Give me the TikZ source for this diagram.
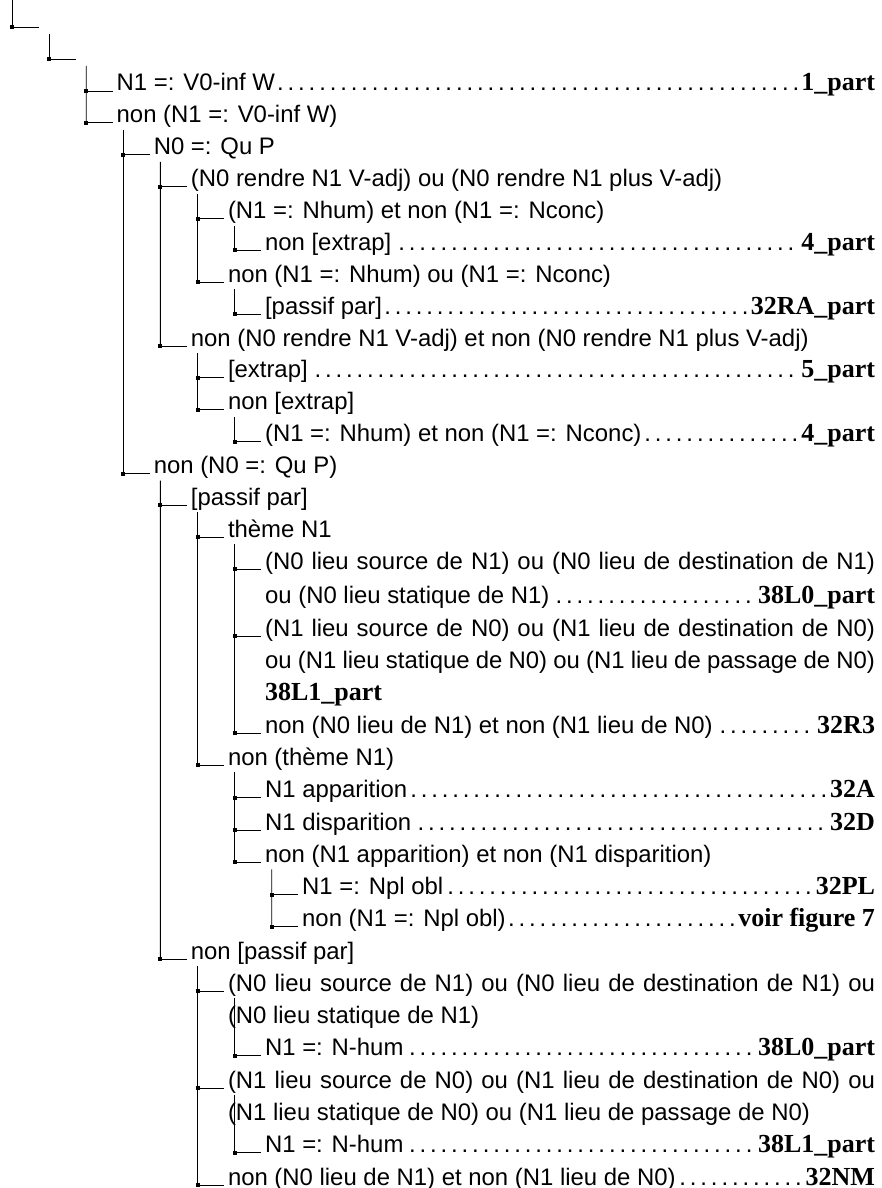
\documentclass[tikz,border=0pt]{standalone}
\usepackage{fontspec}
\setmainfont{Liberation Serif}
\setsansfont{Liberation Sans}
\usetikzlibrary{calc}
\newcommand\partlbl[1]{{\fontsize{26pt}{30pt}\selectfont\rmfamily\bfseries #1}}
\tikzset{
	junc/.style={fill, minimum size=4pt, inner sep=0pt, outer sep=0pt},
	lbl/.style={anchor=base west, inner sep=0pt, outer sep=0pt, font=\fontsize{23.9pt}{28pt}\selectfont\sffamily},
}

\begin{document}
\begin{tikzpicture}[x=1pt, y=-1pt, line width=0.9pt]
	\useasboundingbox (0,0) rectangle (881,1188);
	% first two levels, no text
	\coordinate (top) at (12,0);
	\node[junc] (ja) at (12,27) {};
	\node[junc] (jb) at (49.1,59) {};
	\draw (top) -- (ja.center) -- ++(26.5,0);
	\draw (jb.center) -- ++(26.5,0);
	% junctions
	\node[junc] (j1) at (86.2,91) {};
	\node[junc] (j2) at (86.2,122.9) {};
	\node[junc] (j3) at (123.3,154.8) {};
	\node[junc] (j4) at (160.4,186.6) {};
	\node[junc] (j5) at (197.5,218.5) {};
	\node[junc] (j6) at (234.6,250.4) {};
	\node[junc] (j7) at (197.5,282.3) {};
	\node[junc] (j8) at (234.6,314.2) {};
	\node[junc] (j9) at (160.4,346) {};
	\node[junc] (j10) at (197.5,377.9) {};
	\node[junc] (j11) at (197.5,409.8) {};
	\node[junc] (j12) at (234.6,441.7) {};
	\node[junc] (j13) at (123.3,473.6) {};
	\node[junc] (j14) at (160.4,505.4) {};
	\node[junc] (j15) at (197.5,537.3) {};
	\node[junc] (j16) at (234.6,569.2) {};
	\node[junc] (j18) at (234.6,636.3) {};
	\node[junc] (j21) at (234.6,733.1) {};
	\node[junc] (j22) at (197.5,765.4) {};
	\node[junc] (j23) at (234.6,797.7) {};
	\node[junc] (j24) at (234.6,830) {};
	\node[junc] (j25) at (234.6,862.3) {};
	\node[junc] (j26) at (271.7,894.5) {};
	\node[junc] (j27) at (271.7,926.8) {};
	\node[junc] (j28) at (160.4,959.1) {};
	\node[junc] (j29) at (197.5,991.3) {};
	\node[junc] (j31) at (234.6,1055.9) {};
	\node[junc] (j32) at (197.5,1088.2) {};
	\node[junc] (j34) at (234.6,1152.8) {};
	\node[junc] (j35) at (197.5,1185) {};
	% texts
	\node[lbl] (t1) at (116.7,91) {\hbox to 758.3pt{N1 =: V0-inf W\dotfill\partlbl{1\_part}}};
	\node[lbl] (t2) at (116.7,122.9) {non (N1 =: V0-inf W)};
	\node[lbl] (t3) at (153.8,154.8) {N0 =: Qu P};
	\node[lbl] (t4) at (190.9,186.6) {(N0 rendre N1 V-adj) ou (N0 rendre N1 plus V-adj)};
	\node[lbl] (t5) at (228,218.5) {(N1 =: Nhum) et non (N1 =: Nconc)};
	\node[lbl] (t6) at (265.1,250.4) {\hbox to 609.9pt{non [extrap]\dotfill\partlbl{4\_part}}};
	\node[lbl] (t7) at (228,282.3) {non (N1 =: Nhum) ou (N1 =: Nconc)};
	\node[lbl] (t8) at (265.1,314.2) {\hbox to 609.9pt{[passif par]\dotfill\partlbl{32RA\_part}}};
	\node[lbl] (t9) at (190.9,346) {non (N0 rendre N1 V-adj) et non (N0 rendre N1 plus V-adj)};
	\node[lbl] (t10) at (228,377.9) {\hbox to 647pt{[extrap]\dotfill\partlbl{5\_part}}};
	\node[lbl] (t11) at (228,409.8) {non [extrap]};
	\node[lbl] (t12) at (265.1,441.7) {\hbox to 609.9pt{(N1 =: Nhum) et non (N1 =: Nconc)\dotfill\partlbl{4\_part}}};
	\node[lbl] (t13) at (153.8,473.6) {non (N0 =: Qu P)};
	\node[lbl] (t14) at (190.9,505.4) {[passif par]};
	\node[lbl] (t15) at (228,537.3) {thème N1};
	\node[lbl] (t16) at (265.1,569.2) {\hbox to 609.9pt{(N0 lieu source de N1) ou (N0 lieu de destination de N1)}};
	\node[lbl] (t17) at (265.1,603) {\hbox to 609.9pt{ou (N0 lieu statique de N1)\dotfill\partlbl{38L0\_part}}};
	\node[lbl] (t18) at (265.1,636.3) {\hbox to 609.9pt{(N1 lieu source de N0) ou (N1 lieu de destination de N0)}};
	\node[lbl] (t19) at (265.1,668.6) {\hbox to 609.9pt{ou (N1 lieu statique de N0) ou (N1 lieu de passage de N0)}};
	\node[lbl] (t20) at (265.1,700.9) {\partlbl{38L1\_part}};
	\node[lbl] (t21) at (265.1,733.1) {\hbox to 609.9pt{non (N0 lieu de N1) et non (N1 lieu de N0)\dotfill\partlbl{32R3}}};
	\node[lbl] (t22) at (228,765.4) {non (thème N1)};
	\node[lbl] (t23) at (265.1,797.7) {\hbox to 609.9pt{N1 apparition\dotfill\partlbl{32A}}};
	\node[lbl] (t24) at (265.1,830) {\hbox to 609.9pt{N1 disparition\dotfill\partlbl{32D}}};
	\node[lbl] (t25) at (265.1,862.3) {non (N1 apparition) et non (N1 disparition)};
	\node[lbl] (t26) at (302.2,894.5) {\hbox to 572.8pt{N1 =: Npl obl\dotfill\partlbl{32PL}}};
	\node[lbl] (t27) at (302.2,926.8) {\hbox to 572.8pt{non (N1 =: Npl obl)\dotfill\partlbl{voir figure 7}}};
	\node[lbl] (t28) at (190.9,959.1) {non [passif par]};
	\node[lbl] (t29) at (228,991.3) {\hbox to 647pt{(N0 lieu source de N1) ou (N0 lieu de destination de N1) ou}};
	\node[lbl] (t30) at (228,1023.6) {(N0 lieu statique de N1)};
	\node[lbl] (t31) at (265.1,1055.9) {\hbox to 609.9pt{N1 =: N-hum\dotfill\partlbl{38L0\_part}}};
	\node[lbl] (t32) at (228,1088.2) {\hbox to 647pt{(N1 lieu source de N0) ou (N1 lieu de destination de N0) ou}};
	\node[lbl] (t33) at (228,1120.5) {(N1 lieu statique de N0) ou (N1 lieu de passage de N0)};
	\node[lbl] (t34) at (265.1,1152.8) {\hbox to 609.9pt{N1 =: N-hum\dotfill\partlbl{38L1\_part}}};
	\node[lbl] (t35) at (228,1185) {\hbox to 647pt{non (N0 lieu de N1) et non (N1 lieu de N0)\dotfill\partlbl{32NM}}};
	% stubs
	\foreach \i in {1,2,3,4,5,6,7,8,9,10,11,12,13,14,15,16,18,21,22,23,24,25,26,27,28,29,31,32,34,35}
		\draw (j\i.center) -- ([xshift=-4pt]t\i.base west);
	% verticals
	\draw (ja.center) ++(37.1,7) -- (jb.center);
	\draw (jb.center) ++(37.1,7) -- (j2.center);
	\draw (j2.center) ++(37.1,7) -- (j13.center);
	\draw (j3.center) ++(37.1,7) -- (j9.center);
	\draw (j4.center) ++(37.1,7) -- (j7.center);
	\draw (j5.center) ++(37.1,7) -- (j6.center);
	\draw (j7.center) ++(37.1,7) -- (j8.center);
	\draw (j9.center) ++(37.1,7) -- (j11.center);
	\draw (j11.center) ++(37.1,7) -- (j12.center);
	\draw (j13.center) ++(37.1,7) -- (j28.center);
	\draw (j14.center) ++(37.1,7) -- (j22.center);
	\draw (j15.center) ++(37.1,7) -- (j21.center);
	\draw (j22.center) ++(37.1,7) -- (j25.center);
	\draw (j25.center) ++(37.1,7) -- (j27.center);
	\draw (j28.center) ++(37.1,7) -- (j35.center);
	\draw (j29.center) ++(37.1,7) -- (j31.center);
	\draw (j32.center) ++(37.1,7) -- (j34.center);
\end{tikzpicture}
\end{document}
